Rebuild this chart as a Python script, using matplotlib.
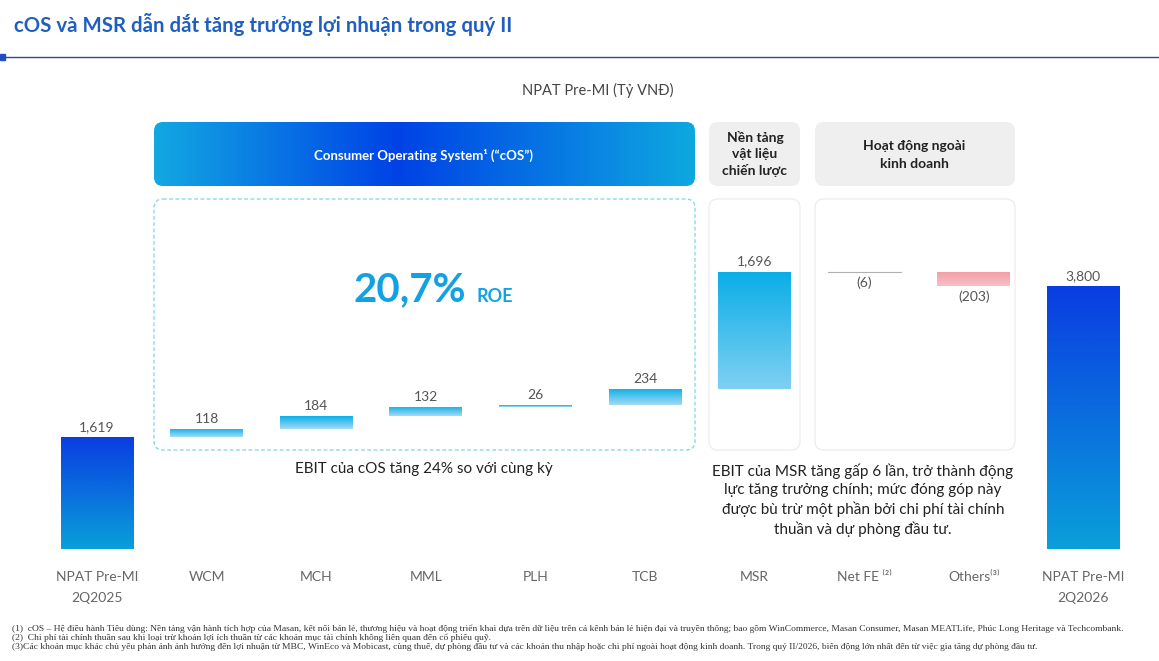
import matplotlib
matplotlib.use("Agg")
import matplotlib.pyplot as plt
import numpy as np
from matplotlib.colors import LinearSegmentedColormap
from matplotlib.patches import FancyBboxPatch

plt.rcParams['font.family'] = ['Lato', 'DejaVu Sans']

# data (NPAT Pre-MI, ty VND)
categories = ['NPAT Pre-MI\n2Q2025', 'WCM', 'MCH', 'MML', 'PLH', 'TCB', 'MSR',
              'Net FE ⁽²⁾', 'Others⁽³⁾', 'NPAT Pre-MI\n2Q2026']
values = [1619, 118, 184, 132, 26, 234, 1696, -6, -203, 3800]
kinds = ['total', 'cos', 'cos', 'cos', 'cos', 'cos', 'msr', 'fe', 'neg', 'total']

title = 'cOS và MSR dẫn dắt tăng trưởng lợi nhuận trong quý II'
subtitle = 'NPAT Pre-MI (Tỷ VNĐ)'
cos_note = 'EBIT của cOS tăng 24% so với cùng kỳ'
msr_note = ('EBIT của MSR tăng gấp 6 lần, trở thành động\nlực tăng trưởng chính; mức đóng góp này\n'
            'được bù trừ một phần bởi chi phí tài chính\nthuần và dự phòng đầu tư.')
footnotes = [
    '(1)  cOS – Hệ điều hành Tiêu dùng: Nền tảng vận hành tích hợp của Masan, kết nối bán lẻ, thương hiệu và hoạt động triển khai dựa trên dữ liệu trên cả kênh bán lẻ hiện đại và truyền thống; bao gồm WinCommerce, Masan Consumer, Masan MEATLife, Phúc Long Heritage và Techcombank.',
    '(2)  Chi phí tài chính thuần sau khi loại trừ khoản lợi ích thuần từ các khoản mục tài chính không liên quan đến cổ phiếu quỹ.',
    '(3)Các khoản mục khác chủ yếu phản ánh ảnh hưởng đến lợi nhuận từ MBC, WinEco và Mobicast, cùng thuế, dự phòng đầu tư và các khoản thu nhập hoặc chi phí ngoài hoạt động kinh doanh. Trong quý II/2026, biến động lớn nhất đến từ việc gia tăng dự phòng đầu tư.',
]

W, H = 1159, 661
fig = plt.figure(figsize=(W / 100, H / 100), dpi=100)

# overlay in pixel coords for the slide decorations
ov = fig.add_axes([0, 0, 1, 1], zorder=0)
ov.set_xlim(0, W)
ov.set_ylim(H, 0)
ov.axis('off')

ov.text(14, 24, title, color='#1f5fc0', fontsize=14.7, fontweight='bold', va='center')
ov.plot([0, W], [57, 57], color='#2a4a9a', lw=1)
ov.add_patch(plt.Rectangle((0, 54), 5, 6, color='#1f4fc8'))
ov.text(598, 90, subtitle, color='#444444', fontsize=10.5, ha='center', va='center')


def rbox(x0, y0, x1, y1, **kw):
    p = FancyBboxPatch((x0, y0), x1 - x0, y1 - y0,
                       boxstyle='round,pad=0,rounding_size=9', **kw)
    ov.add_patch(p)
    return p


# cOS header with horizontal gradient
hdr = rbox(154, 122, 695, 186, facecolor='none', edgecolor='none')
hcmap = LinearSegmentedColormap.from_list('h', [(0, '#12a8e2'), (0.45, '#0042e6'), (1, '#0ea8e0')])
im = ov.imshow(np.linspace(0, 1, 256)[None, :], cmap=hcmap, aspect='auto',
               extent=(154, 695, 186, 122), zorder=1)
im.set_clip_path(hdr)
ov.text(424, 155, 'Consumer Operating System¹ (“cOS”)', color='white', fontsize=9.5,
        fontweight='bold', ha='center', va='center', zorder=2)

rbox(709, 122, 800, 186, facecolor='#efefef', edgecolor='none')
rbox(815, 122, 1015, 186, facecolor='#efefef', edgecolor='none')
ov.text(755, 154, 'Nền tảng\nvật liệu\nchiến lược', color='#222222', fontsize=10,
        fontweight='bold', ha='center', va='center', linespacing=1.35)
ov.text(914, 155, 'Hoạt động ngoài\nkinh doanh', color='#222222', fontsize=10,
        fontweight='bold', ha='center', va='center', linespacing=1.5)

rbox(154, 199, 695, 450, facecolor='white', edgecolor='#7fd3e6', lw=0.9, linestyle=(0, (3, 2)))
rbox(709, 199, 800, 450, facecolor='white', edgecolor='#ececec', lw=0.9)
rbox(815, 199, 1015, 450, facecolor='white', edgecolor='#ececec', lw=0.9)

ov.text(466, 290, '20,7%', color='#12a2e4', fontsize=29, fontweight='bold', ha='right', va='center')
ov.text(477, 296, 'ROE', color='#12a2e4', fontsize=13, fontweight='bold', ha='left', va='center')

ov.text(424, 469, cos_note, color='#222222', fontsize=11, ha='center', va='center')
ov.text(863, 500, msr_note, color='#222222', fontsize=11, ha='center', va='center', linespacing=1.35)

for i, line in enumerate(footnotes):
    ov.text(12, 629 + i * 9, line, color='#333333', fontsize=6.8, family='Liberation Serif', va='center')

# waterfall chart
ax = fig.add_axes([42.2 / W, 112 / H, 1096 / W, 449.8 / H], zorder=1)
ax.patch.set_alpha(0)
x = np.arange(len(values))
bottoms, heights = [], []
run = 0
for v, k in zip(values, kinds):
    if k == 'total':
        bottoms.append(0)
        heights.append(v)
        run = v
    else:
        bottoms.append(run if v >= 0 else run + v)
        heights.append(abs(v))
        run += v

grads = {
    'total': ['#0a9fda', '#0a3de2'],
    'cos': ['#a5daf4', '#0ab0e8'],
    'msr': ['#7fd0f2', '#0aaee8'],
    'neg': ['#f7c0c4', '#f29ea6'],
}
bars = ax.bar(x, heights, bottom=bottoms, width=0.665, color='none', edgecolor='none')
for b, k in zip(bars, kinds):
    bx, by, bw, bh = b.get_x(), b.get_y(), b.get_width(), b.get_height()
    if k == 'fe':
        ax.plot([bx, bx + bw], [by + bh, by + bh], color='#b0b0b0', lw=0.8)
        continue
    cm = LinearSegmentedColormap.from_list(k, grads[k])
    g = ax.imshow(np.linspace(0, 1, 128)[:, None], cmap=cm, aspect='auto', origin='lower',
                  extent=(bx, bx + bw, by, by + bh), zorder=2)
    g.set_clip_path(b)

for xi, v, b, h in zip(x, values, bottoms, heights):
    if v >= 0:
        ax.text(xi, b + h + 60, f'{v:,}', ha='center', va='bottom', color='#555555', fontsize=10)
    else:
        ax.text(xi, b - 60, f'({abs(v):,})', ha='center', va='top', color='#555555', fontsize=10)

ax.set_xlim(-0.5, len(values) - 0.5)
ax.set_ylim(0, 6500)
ax.set_xticks(x)
ax.set_xticklabels(categories, color='#666666', fontsize=10, linespacing=1.85)
ax.tick_params(axis='x', length=0, pad=16)
ax.set_yticks([])
for s in ax.spines.values():
    s.set_visible(False)

fig.savefig('out.png', dpi=100)
